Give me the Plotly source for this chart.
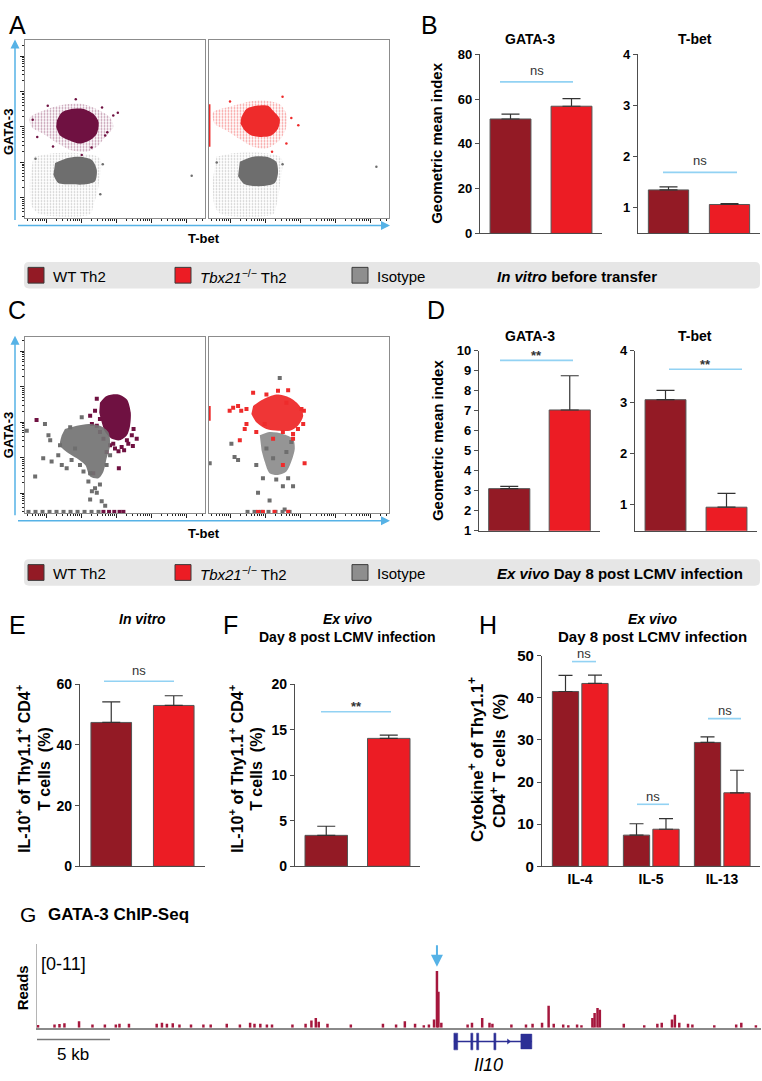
import math
import plotly.graph_objects as go

W, H = 762, 1081
FONT = "Liberation Sans, Arial, Helvetica, sans-serif"

WT_BAR = "#931a25"
KO_BAR = "#ec1c24"
ISO_GREY = "#8e8e8e"
FLOW_WT = "#6f1141"
FLOW_KO = "#ee2b2b"
FLOW_GREY = "#6e6e6e"
ARROW_BLUE = "#56b2e6"
NS_BLUE = "#92d2f3"
AXIS = "#4d4d4d"
TRACK = "#a5173d"
GENE = "#2c2f95"

# ---------------- data ----------------
groups = ["WT Th2", "Tbx21-/- Th2"]
b_gata_mean = [51.1, 56.8]
b_gata_err = [2.2, 3.4]
b_tbet_mean = [1.35, 1.065]
b_tbet_err = [0.06, 0.02]
d_gata_mean = [3.10, 7.03]
d_gata_err = [0.11, 1.71]
d_tbet_mean = [3.045, 0.956]
d_tbet_err = [0.18, 0.27]
e_mean = [47.4, 53.0]
e_err = [6.8, 3.2]
f_mean = [3.4, 14.05]
f_err = [1.0, 0.35]
cytokines = ["IL-4", "IL-5", "IL-13"]
h_wt_mean = [41.5, 7.4, 29.4]
h_wt_err = [3.8, 2.7, 1.3]
h_ko_mean = [43.4, 8.8, 17.45]
h_ko_err = [2.0, 2.5, 5.35]

# ChIP-seq track (position in kb, reads)
chip_pos_kb = [0.07, 1.2, 1.54, 1.88, 2.88, 3.8, 4.65, 5.4, 5.65, 6.3, 8.2, 8.56, 8.9, 9.3, 9.76,
               10.55, 11.4, 11.9, 13.0, 13.9, 14.6, 14.9, 15.3, 15.75, 16.1, 17.5, 18.4, 18.8, 19.1,
               19.3, 19.9, 21.5, 23.7, 24.6, 25.2, 25.9, 26.5, 26.85, 27.2, 27.4, 27.5, 27.7, 29.5,
               29.8, 30.5, 31.0, 31.2, 32.5, 33.5, 33.95, 34.6, 35.05, 35.4, 36.05, 36.4, 37.0, 37.3,
               38.05, 38.2, 38.4, 38.56, 40.2, 41.6, 42.5, 42.8, 43.5, 43.7, 44.0, 44.6, 44.9, 46.4,
               47.9, 48.25, 49.25]
chip_reads = [0.35, 0.43, 0.5, 0.6, 0.86, 0.43, 0.43, 0.43, 0.52, 0.52, 0.52, 0.65, 0.52, 0.6, 0.43,
              0.43, 0.43, 0.43, 0.52, 0.43, 0.65, 0.52, 0.52, 0.43, 0.43, 0.43, 0.52, 0.95, 1.29,
              0.78, 0.52, 0.43, 0.52, 0.43, 0.86, 0.52, 0.34, 0.43, 1.08, 7.46, 4.74, 0.65, 0.43,
              0.65, 1.29, 0.65, 0.52, 0.43, 0.43, 0.52, 0.65, 2.89, 0.52, 0.43, 0.34, 0.43, 0.34,
              1.29, 1.94, 2.59, 2.37, 0.52, 0.34, 0.52, 0.65, 1.08, 1.72, 0.65, 0.52, 0.43, 0.34,
              0.43, 0.65, 0.34]
il10_start_kb, il10_end_kb = 28.56, 33.9
il10_exons_kb = [(28.56, 28.82), (29.72, 29.86), (30.12, 30.26), (31.3, 31.44), (33.15, 33.9)]
chip_peak_kb = 27.4

# Flow cytometry (log10 fluorescence, T-bet = x, GATA-3 = y)
a_wt_core_x = [1.31, 1.45, 1.73, 2.07, 2.35, 2.50, 2.45, 2.26, 1.97, 1.64, 1.40, 1.29]
a_wt_core_y = [3.18, 3.41, 3.51, 3.51, 3.37, 3.14, 2.81, 2.63, 2.53, 2.63, 2.76, 3.00]
a_wt_halo_x = [1.16, 1.59, 2.07, 2.54, 2.83, 2.92, 2.69, 2.45, 2.16, 1.69, 1.35, 0.92, 0.59, 0.54, 0.92]
a_wt_halo_y = [3.55, 3.64, 3.64, 3.46, 3.27, 3.00, 2.72, 2.44, 2.30, 2.35, 2.53, 2.81, 3.00, 3.27, 3.46]
a_wt_pts_x = [2.92, 2.69, 2.75, 2.02, 1.05, 0.75, 1.20, 2.60, 1.85, 2.30, 3.05, 0.62]
a_wt_pts_y = [3.32, 2.76, 2.85, 2.21, 3.60, 2.72, 2.45, 3.55, 3.78, 2.42, 3.40, 3.20]
a_iso_core_x = [1.26, 1.59, 1.97, 2.31, 2.45, 2.40, 2.12, 1.73, 1.35, 1.21]
a_iso_core_y = [1.98, 2.12, 2.16, 2.07, 1.79, 1.47, 1.38, 1.38, 1.42, 1.65]
a_iso_halo_x = [0.64, 1.21, 1.97, 2.54, 2.50, 2.35, 2.26, 0.83, 0.59, 0.54]
a_iso_halo_y = [2.16, 2.26, 2.26, 2.12, 1.33, 0.77, 0.54, 0.54, 0.77, 1.51]
a_iso_pts_x = [5.16, 2.62, 0.70, 2.55]
a_iso_pts_y = [1.62, 1.95, 2.10, 1.10]
a_ko_core_x = [1.32, 1.47, 1.75, 2.09, 2.23, 2.42, 2.37, 2.18, 1.90, 1.61, 1.42, 1.30]
a_ko_core_y = [3.27, 3.51, 3.60, 3.60, 3.46, 3.23, 2.95, 2.76, 2.72, 2.76, 2.90, 3.09]
a_ko_halo_x = [1.09, 1.56, 2.04, 2.42, 2.61, 2.61, 2.42, 2.04, 1.66, 1.32, 0.90, 0.56, 0.51, 0.90]
a_ko_halo_y = [3.60, 3.72, 3.74, 3.64, 3.37, 3.00, 2.63, 2.39, 2.44, 2.63, 2.90, 3.09, 3.41, 3.55]
a_ko_pts_x = [2.61, 2.75, 1.00, 2.50, 2.95, 2.20]
a_ko_pts_y = [2.53, 3.25, 3.72, 3.85, 3.05, 2.30]
a_ko_edge_y = [2.44, 3.64]
a_iso2_core_x = [1.28, 1.66, 2.04, 2.32, 2.37, 2.28, 1.85, 1.42, 1.23]
a_iso2_core_y = [2.02, 2.16, 2.16, 2.02, 1.70, 1.42, 1.33, 1.38, 1.61]
a_iso2_halo_x = [0.61, 1.09, 2.04, 2.47, 2.42, 2.32, 2.23, 0.75, 0.56, 0.51]
a_iso2_halo_y = [2.16, 2.26, 2.26, 2.12, 1.33, 0.77, 0.54, 0.54, 0.77, 1.51]
a_iso2_pts_x = [5.18, 2.50, 0.62]
a_iso2_pts_y = [1.88, 1.95, 2.00]

c_wt_core_x = [2.54, 2.73, 3.07, 3.31, 3.42, 3.40, 3.31, 3.11, 2.88, 2.69, 2.59, 2.52]
c_wt_core_y = [3.55, 3.74, 3.78, 3.64, 3.27, 2.90, 2.63, 2.49, 2.53, 2.72, 3.00, 3.27]
c_wt_pts_x = [0.73, 2.45, 2.40, 2.26, 2.54, 2.45, 2.83, 2.97, 3.07, 3.16, 3.35, 3.48, 3.59, 3.45,
              3.50, 3.31, 3.08, 2.73, 2.35, 2.54, 2.31, 2.92, 3.23, 2.64]
c_wt_pts_y = [3.06, 3.66, 3.32, 3.18, 3.09, 2.90, 2.35, 2.26, 2.18, 2.30, 2.39, 2.33, 2.53, 2.63,
              2.81, 2.49, 1.70, 2.16, 1.56, 2.72, 2.95, 2.39, 2.21, 2.53]
c_wt_axis_x = [2.64, 2.80, 2.95, 3.10, 3.21]
c_iso_core_x = [1.54, 1.88, 2.21, 2.54, 2.78, 2.83, 2.73, 2.64, 2.50, 2.26, 2.12, 1.88, 1.59, 1.40, 1.45]
c_iso_core_y = [2.81, 2.90, 2.95, 2.90, 2.72, 2.35, 1.98, 1.61, 1.42, 1.47, 1.79, 1.98, 2.16, 2.35, 2.63]
c_iso_pts_x = [0.97, 1.07, 1.12, 0.69, 0.92, 1.16, 1.45, 1.40, 1.35, 1.73, 2.07, 2.21, 2.31, 2.45,
               2.59, 2.69, 2.26, 2.02, 1.69, 2.26, 2.54, 2.40, 2.73, 2.83, 0.45, 1.59, 1.97, 1.83]
c_iso_pts_y = [2.95, 2.63, 2.49, 1.47, 1.98, 1.89, 1.79, 2.35, 2.07, 1.93, 1.61, 1.33, 1.05, 1.01,
               0.77, 0.64, 0.82, 3.14, 2.86, 1.56, 1.24, 1.14, 1.79, 2.07, 2.76, 1.70, 1.79, 2.26]
c_iso_axis_x = [0.5, 0.7, 0.9, 1.1, 1.3, 1.5, 1.7, 1.9, 2.1, 2.3, 2.5]
c_ko_core_x = [1.66, 1.94, 2.32, 2.71, 2.99, 3.09, 2.94, 2.71, 2.37, 2.04, 1.75, 1.61]
c_ko_core_y = [3.46, 3.64, 3.78, 3.69, 3.46, 3.18, 2.90, 2.76, 2.76, 2.81, 3.00, 3.23]
c_ko_pts_x = [0.99, 1.09, 1.23, 1.32, 1.47, 1.42, 1.28, 1.66, 2.37, 2.66, 2.51, 2.80, 2.94, 3.09,
              3.11, 3.04, 2.80, 2.23, 3.13, 2.51, 1.99, 1.47, 1.75, 2.61, 2.04]
c_ko_pts_y = [3.32, 3.41, 3.46, 3.32, 2.95, 2.81, 2.49, 3.83, 3.89, 3.90, 2.72, 2.67, 2.81, 2.95,
              3.32, 3.37, 2.53, 2.53, 1.84, 1.79, 2.95, 3.37, 2.72, 3.55, 3.78]
c_ko_edge_y = [3.04, 3.46]
c_ko_axis_x = [1.80, 1.94, 2.27, 2.66]
c_iso2_core_x = [1.85, 2.13, 2.51, 2.80, 2.85, 2.75, 2.61, 2.37, 2.13, 1.99, 1.90]
c_iso2_core_y = [2.63, 2.72, 2.67, 2.53, 2.26, 1.89, 1.61, 1.51, 1.56, 1.89, 2.21]
c_iso2_pts_x = [2.42, 1.04, 1.13, 1.23, 0.42, 1.80, 2.13, 2.51, 2.80, 2.56, 1.94, 2.32, 2.66, 2.04,
                1.75, 2.75, 2.23, 2.61]
c_iso2_pts_y = [4.25, 2.39, 2.02, 1.93, 1.84, 1.01, 0.79, 1.19, 1.19, 0.54, 1.42, 1.38, 1.42, 2.26,
                1.79, 2.44, 1.98, 2.16]
c_iso2_axis_x = [1.5, 1.7, 1.9, 2.1, 2.3, 2.5, 2.7]

# ---------------- helpers ----------------
fig = go.Figure()
shapes, anns = [], []
layout = dict(width=W, height=H, margin=dict(l=0, r=0, t=0, b=0), paper_bgcolor="white",
              plot_bgcolor="white", showlegend=False, barmode="overlay",
              font=dict(family=FONT, color="black"), hovermode=False)


def xd(a, b):
    return [a / W, b / W]


def yd(top, bottom):
    return [1 - bottom / H, 1 - top / H]


def PX(x):
    return x / W


def PY(y):
    return 1 - y / H


def axn(n):
    return "" if n == 1 else str(n)


def text(t, x, y, size, angle=0, xanchor="center", color="black"):
    anns.append(dict(text=t, x=PX(x), y=PY(y), xref="paper", yref="paper", showarrow=False,
                     font=dict(size=size, color=color, family=FONT),
                     textangle=angle, xanchor=xanchor, yanchor="middle"))


def poly(xs, ys, color, n, solidity=None, psize=4, opacity=1.0):
    kw = {}
    if solidity is None:
        kw["fillcolor"] = color
    else:
        kw["fillcolor"] = "rgba(0,0,0,0)"
        kw["fillpattern"] = dict(shape=".", fgcolor=color, bgcolor="rgba(0,0,0,0)",
                                 size=psize, solidity=solidity)
    fig.add_trace(go.Scatter(x=xs, y=ys, mode="lines", fill="toself",
                             line=dict(color="rgba(0,0,0,0)", width=0, shape="spline", smoothing=0.8),
                             opacity=opacity, xaxis="x" + axn(n), yaxis="y" + axn(n), **kw))


def pts(xs, ys, color, n, size, symbol="circle"):
    fig.add_trace(go.Scatter(x=xs, y=ys, mode="markers",
                             marker=dict(color=color, size=size, symbol=symbol, line=dict(width=0)),
                             xaxis="x" + axn(n), yaxis="y" + axn(n)))


def flow_axes(n, xdom, ydom, yrange, show_y):
    major = [1, 2, 3, 4, 5]
    minor = [k + math.log10(m) for k in range(0, 6) for m in range(2, 10)]
    base = dict(type="linear", showgrid=False, zeroline=False, showline=True, linecolor="#8c8c8c",
                linewidth=1, mirror=True, showticklabels=False, tickmode="array", tickvals=major,
                ticks="outside", ticklen=4, tickcolor="#222", tickwidth=1,
                minor=dict(tickmode="array", tickvals=minor, ticks="outside", ticklen=2,
                           tickcolor="#222", tickwidth=1, showgrid=False))
    xa = dict(base, domain=xdom, range=[0.4, 5.54], anchor="y" + axn(n))
    ya = dict(base, domain=ydom, range=yrange, anchor="x" + axn(n))
    if not show_y:
        ya["ticks"] = ""
        ya["minor"] = dict(ticks="", showgrid=False)
    layout["xaxis" + axn(n)] = xa
    layout["yaxis" + axn(n)] = ya


def bar_axes(n, xdom, ydom, yrange, tickvals, size, xrange, xlabels=False):
    layout["xaxis" + axn(n)] = dict(domain=xdom, range=xrange, anchor="y" + axn(n), showline=True,
                                    linecolor=AXIS, linewidth=1.2, ticks="", showgrid=False,
                                    zeroline=False, showticklabels=xlabels, type="category",
                                    tickfont=dict(size=size - 1, family=FONT, weight="bold"))
    layout["yaxis" + axn(n)] = dict(domain=ydom, range=yrange, anchor="x" + axn(n), showline=True,
                                    linecolor=AXIS, linewidth=1.2, ticks="outside", ticklen=4,
                                    tickcolor=AXIS, tickmode="array", tickvals=tickvals,
                                    tickfont=dict(size=size, family=FONT, weight="bold", color="black"),
                                    showgrid=False, zeroline=False)


def bars(n, means, errs, width):
    fig.add_trace(go.Bar(x=groups, y=means, width=width, marker=dict(color=[WT_BAR, KO_BAR],
                         line=dict(color="#555", width=1)),
                         error_y=dict(type="data", array=errs, arrayminus=[0] * len(errs),
                                      symmetric=False, color="#333", thickness=1.2, width=9),
                         xaxis="x" + axn(n), yaxis="y" + axn(n)))


def sig(x0, x1, y, label, ty, size=13):
    shapes.append(dict(type="line", xref="paper", yref="paper", x0=PX(x0), x1=PX(x1), y0=PY(y),
                       y1=PY(y), line=dict(color=NS_BLUE, width=1.6)))
    text(label, (x0 + x1) / 2, ty, size, color="#333")


def blue_arrows(top, bottom, right):
    anns.append(dict(x=PX(15), y=PY(top), xref="paper", yref="paper", ax=0, ay=bottom - top,
                     showarrow=True, arrowhead=2, arrowsize=1.2, arrowwidth=1.5,
                     arrowcolor=ARROW_BLUE, text=" "))
    anns.append(dict(x=PX(right), y=PY(bottom), xref="paper", yref="paper", ax=-(right - 15), ay=0,
                     showarrow=True, arrowhead=2, arrowsize=1.2, arrowwidth=1.5,
                     arrowcolor=ARROW_BLUE, text=" "))


# ---------------- Panel A ----------------
flow_axes(1, xd(25, 205), yd(32, 212), [0.44, 5.44], True)
flow_axes(2, xd(209, 389), yd(32, 212), [0.44, 5.44], False)
poly(a_wt_halo_x, a_wt_halo_y, "#7a1d4d", 1, solidity=0.3, psize=3)
poly(a_wt_core_x, a_wt_core_y, FLOW_WT, 1)
pts(a_wt_pts_x, a_wt_pts_y, FLOW_WT, 1, 2.5)
poly(a_iso_halo_x, a_iso_halo_y, "#8a8a8a", 1, solidity=0.25, psize=3)
poly(a_iso_core_x, a_iso_core_y, FLOW_GREY, 1)
pts(a_iso_pts_x, a_iso_pts_y, FLOW_GREY, 1, 2.5)
poly(a_ko_halo_x, a_ko_halo_y, FLOW_KO, 2, solidity=0.3, psize=3)
poly(a_ko_core_x, a_ko_core_y, FLOW_KO, 2)
pts(a_ko_pts_x, a_ko_pts_y, FLOW_KO, 2, 2.5)
fig.add_trace(go.Scatter(x=[0.42, 0.42], y=a_ko_edge_y, mode="lines",
                         line=dict(color=FLOW_KO, width=1.5), xaxis="x2", yaxis="y2"))
poly(a_iso2_halo_x, a_iso2_halo_y, "#8a8a8a", 2, solidity=0.25, psize=3)
poly(a_iso2_core_x, a_iso2_core_y, FLOW_GREY, 2)
pts(a_iso2_pts_x, a_iso2_pts_y, FLOW_GREY, 2, 2.5)
blue_arrows(31, 220, 390)
text("<b>GATA-3</b>", 8, 125, 13, angle=-90)
text("<b>T-bet</b>", 204, 233, 13)
text("A", 17, 16, 25)

# ---------------- Panel C ----------------
flow_axes(5, xd(25, 205), yd(333, 512), [0.44, 5.41], True)
flow_axes(6, xd(209, 389), yd(333, 512), [0.44, 5.41], False)
poly(c_wt_core_x, c_wt_core_y, FLOW_WT, 5)
pts(c_wt_pts_x, c_wt_pts_y, FLOW_WT, 5, 4, "square")
pts(c_wt_axis_x, [0.47] * len(c_wt_axis_x), FLOW_WT, 5, 4, "square")
poly(c_iso_core_x, c_iso_core_y, "#737373", 5, opacity=0.92)
pts(c_iso_pts_x, c_iso_pts_y, FLOW_GREY, 5, 4, "square")
pts(c_iso_axis_x, [0.47] * len(c_iso_axis_x), FLOW_GREY, 5, 4, "square")
poly(c_iso2_core_x, c_iso2_core_y, "#7a7a7a", 6, opacity=0.8)
pts(c_iso2_pts_x, c_iso2_pts_y, FLOW_GREY, 6, 4, "square")
pts(c_iso2_axis_x, [0.47] * len(c_iso2_axis_x), FLOW_GREY, 6, 4, "square")
poly(c_ko_core_x, c_ko_core_y, FLOW_KO, 6, opacity=0.95)
pts(c_ko_pts_x, c_ko_pts_y, FLOW_KO, 6, 4, "square")
pts(c_ko_axis_x, [0.47] * len(c_ko_axis_x), FLOW_KO, 6, 4, "square")
fig.add_trace(go.Scatter(x=[0.42, 0.42], y=c_ko_edge_y, mode="lines",
                         line=dict(color=FLOW_KO, width=2), xaxis="x6", yaxis="y6"))
blue_arrows(332, 520, 390)
text("<b>GATA-3</b>", 8, 433, 13, angle=-90)
text("<b>T-bet</b>", 204, 533, 13)
text("C", 17, 306, 25)

# ---------------- Panel B ----------------
bar_axes(3, xd(480, 602), yd(46, 228), [0, 80], [0, 20, 40, 60, 80], 13, [-0.5, 1.5])
bar_axes(4, xd(638, 760), yd(46, 228), [0.5, 4], [1, 2, 3, 4], 13, [-0.5, 1.5])
bars(3, b_gata_mean, b_gata_err, 0.67)
bars(4, b_tbet_mean, b_tbet_err, 0.66)
text("B", 429, 16, 25)
text("<b>GATA-3</b>", 530, 30, 14)
text("<b>T-bet</b>", 695, 30, 14)
text("<b>Geometric mean index</b>", 437, 136, 15, angle=-90)
sig(500, 573, 74, "ns", 62)
sig(663, 737, 166, "ns", 154)

# ---------------- Panel D ----------------
bar_axes(7, xd(479, 600), yd(347, 530), [1, 10], list(range(1, 11)), 13, [-0.5, 1.5])
bar_axes(8, xd(635, 757), yd(347, 530), [0.5, 4], [1, 2, 3, 4], 13, [-0.5, 1.5])
bars(7, d_gata_mean, d_gata_err, 0.68)
bars(8, d_tbet_mean, d_tbet_err, 0.67)
text("D", 436, 306, 25)
text("<b>GATA-3</b>", 530, 332, 14)
text("<b>T-bet</b>", 695, 332, 14)
text("<b>Geometric mean index</b>", 437, 438, 15, angle=-90)
sig(500, 573, 357, "<b>**</b>", 352)
sig(669, 742, 366, "<b>**</b>", 361)

# ---------------- Legend rows ----------------


def legend_row(top, bottom, label):
    x0, x1, r = 24, 760, 5
    rx, ry = r / W, r / H
    X0, X1, Y0, Y1 = PX(x0), PX(x1), PY(top), PY(bottom)
    path = (f"M {X0 + rx},{Y0} L {X1 - rx},{Y0} Q {X1},{Y0} {X1},{Y0 - ry} L {X1},{Y1 + ry} "
            f"Q {X1},{Y1} {X1 - rx},{Y1} L {X0 + rx},{Y1} Q {X0},{Y1} {X0},{Y1 + ry} "
            f"L {X0},{Y0 - ry} Q {X0},{Y0} {X0 + rx},{Y0} Z")
    shapes.append(dict(type="path", path=path, xref="paper", yref="paper",
                       fillcolor="#e6e6e6", line=dict(width=0), layer="below"))
    cy = (top + bottom) / 2
    for sx, col in [(28, WT_BAR), (175, KO_BAR), (352, ISO_GREY)]:
        shapes.append(dict(type="rect", xref="paper", yref="paper", x0=PX(sx), x1=PX(sx + 16),
                           y0=PY(cy - 8), y1=PY(cy + 8), fillcolor=col,
                           line=dict(color="#3a3a3a", width=1)))
    text("WT Th2", 51, cy + 1, 15, xanchor="left")
    text("<i>Tbx21</i><sup>−/−</sup> Th2", 198, cy + 1, 15, xanchor="left")
    text("Isotype", 375, cy + 1, 15, xanchor="left")
    text(label, 495, cy + 1, 15, xanchor="left")


legend_row(257, 284, "<b><i>In vitro</i> before transfer</b>")
legend_row(559, 586, "<b><i>Ex vivo</i> Day 8 post LCMV infection</b>")

# ---------------- Panel E ----------------
bar_axes(9, xd(80, 205), yd(686, 871), [0, 60], [0, 20, 40, 60], 14, [-0.5, 1.5])
bars(9, e_mean, e_err, 0.65)
text("E", 17, 626, 25)
text("<b><i>In vitro</i></b>", 142, 620, 14)
text("<b>IL-10<sup>+</sup> of Thy1.1<sup>+</sup> CD4<sup>+</sup></b>", 23, 772, 16, angle=-90)
text("<b>T cells  (%)</b>", 45, 772, 16, angle=-90)
sig(104, 174, 683, "ns", 672)

# ---------------- Panel F ----------------
bar_axes(10, xd(295, 420), yd(686, 871), [0, 20], [0, 5, 10, 15, 20], 14, [-0.5, 1.5])
bars(10, f_mean, f_err, 0.68)
text("F", 230, 626, 25)
text("<b><i>Ex vivo</i></b>", 347, 620, 14)
text("<b>Day 8 post LCMV infection</b>", 347, 638, 14)
text("<b>IL-10<sup>+</sup> of Thy1.1<sup>+</sup> CD4<sup>+</sup></b>", 236, 772, 16, angle=-90)
text("<b>T cells  (%)</b>", 257, 772, 16, angle=-90)
sig(321, 391, 714, "<b>**</b>", 709)

# ---------------- Panel H ----------------
bar_axes(11, xd(542, 760), yd(657, 871), [0, 50], [0, 10, 20, 30, 40, 50], 15, [-0.535, 2.535],
         xlabels=True)
for means, errs, col, off in [(h_wt_mean, h_wt_err, WT_BAR, -0.389), (h_ko_mean, h_ko_err, KO_BAR, 0.026)]:
    fig.add_trace(go.Bar(x=cytokines, y=means, width=0.37, offset=off,
                         marker=dict(color=col, line=dict(color="#555", width=1)),
                         error_y=dict(type="data", array=errs, arrayminus=[0] * 3, symmetric=False,
                                      color="#333", thickness=1.2, width=7),
                         xaxis="x11", yaxis="y11"))
text("H", 488, 626, 25)
text("<b><i>Ex vivo</i></b>", 652, 620, 14)
text("<b>Day 8 post LCMV infection</b>", 652, 638, 15)
text("<b>Cytokine<sup>+</sup> of Thy1.1<sup>+</sup></b>", 476, 763, 17, angle=-90)
text("<b>CD4<sup>+</sup> T cells  (%)</b>", 498, 763, 17, angle=-90)
sig(572, 596, 663, "ns", 655)
sig(637, 669, 808, "ns", 800)
sig(708, 741, 721, "ns", 713)

# ---------------- Panel G ----------------
layout["xaxis12"] = dict(domain=xd(37, 761), range=[0, 49.6], anchor="y12", showline=True,
                         linecolor="#8a8a8a", linewidth=1.5, showticklabels=False, ticks="",
                         showgrid=False, zeroline=False)
layout["yaxis12"] = dict(domain=yd(950, 1035), range=[0, 11], anchor="x12", showline=True,
                         linecolor="#b5b5b5", linewidth=1, showticklabels=False, ticks="",
                         showgrid=False, zeroline=False)
layout["xaxis13"] = dict(domain=xd(37, 761), range=[0, 49.6], anchor="y13", visible=False)
layout["yaxis13"] = dict(domain=yd(1039, 1059), range=[-1, 1], anchor="x13", visible=False)
fig.add_trace(go.Bar(x=chip_pos_kb, y=chip_reads, width=0.17, marker=dict(color=TRACK, line=dict(width=0)),
                     xaxis="x12", yaxis="y12"))
fig.add_trace(go.Scatter(x=[il10_start_kb, il10_end_kb], y=[0, 0], mode="lines",
                         line=dict(color=GENE, width=1.5), xaxis="x13", yaxis="y13"))
for i, (s, e) in enumerate(il10_exons_kb):
    h = 0.75 if i == len(il10_exons_kb) - 1 else 0.85
    shapes.append(dict(type="rect", xref="x13", yref="y13", x0=s, x1=e, y0=-h, y1=h,
                       fillcolor=GENE, line=dict(color=GENE, width=0.5)))
fig.add_trace(go.Scatter(x=[32.3], y=[0], mode="markers",
                         marker=dict(symbol="triangle-right", size=5, color=GENE),
                         xaxis="x13", yaxis="y13"))
shapes.append(dict(type="line", xref="x12", yref="paper", x0=0, x1=5, y0=PY(1047), y1=PY(1047),
                   line=dict(color="#777", width=1.5)))
anns.append(dict(x=chip_peak_kb, y=PY(973), xref="x12", yref="paper", ax=0, ay=-30,
                 showarrow=True, arrowhead=2, arrowsize=1.2, arrowwidth=2, arrowcolor=ARROW_BLUE,
                 text=" "))
text("G", 28, 920, 21)
text("<b>GATA-3 ChIP-Seq</b>", 46, 920, 17, xanchor="left")
text("<b>Reads</b>", 22, 995, 15, angle=-90)
text("[0-11]", 39, 970, 18, xanchor="left")
text("5 kb", 73, 1062, 17)
text("<i>Il10</i>", 488, 1073, 18)

layout["shapes"] = shapes
layout["annotations"] = anns
fig.update_layout(**layout)
fig.write_html("out.html", config={"displayModeBar": False},
               post_script="document.body.style.margin='0px';document.body.style.overflow='hidden';")
